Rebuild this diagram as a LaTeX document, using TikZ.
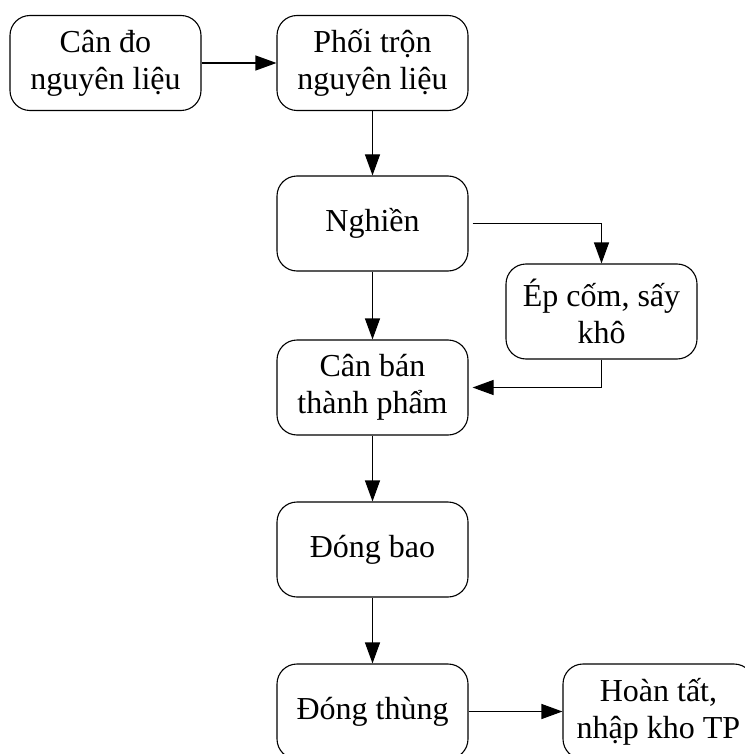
\documentclass[tikz,border=0pt]{standalone}
\usepackage{fontspec}
\setmainfont{Liberation Serif}
\usetikzlibrary{arrows.meta}
\begin{document}
\begin{tikzpicture}[x=1pt,y=-1pt,
  procbox/.style={draw, line width=1.1pt, rounded corners=20pt,
    minimum width=191pt, minimum height=95pt, inner sep=2pt,
    align=center, font=\fontsize{32}{37}\selectfont},
  flow/.style={line width=1.1pt, -{Triangle[length=21pt,width=15pt]}}]
\useasboundingbox (0,0) rectangle (744,754);
\node[procbox] (can)   at (105.5,63)  {Cân đo\\nguyên liệu};
\node[procbox] (phoi)  at (372.5,63)  {Phối trộn\\nguyên liệu};
\node[procbox] (nghien) at (372.5,223.5) {Nghiền};
\node[procbox] (ep)    at (601.5,311.5) {Ép cốm, sấy\\khô};
\node[procbox] (canban) at (372.5,387.5) {Cân bán\\thành phẩm};
\node[procbox] (dongbao) at (372.5,549.5) {Đóng bao};
\node[procbox] (dongthung) at (372.5,711.5) {Đóng thùng};
\node[procbox] (hoantat) at (658.5,711.5) {Hoàn tất,\\nhập kho TP};
\draw[flow] (can.east) -- (phoi.west);
\draw[flow] (phoi.south) -- (nghien.north);
\draw[flow] (nghien.south) -- (canban.north);
\draw[flow, shorten <=4pt] (nghien.east) -| (ep.north);
\draw[flow, shorten >=4pt] (ep.south) |- (canban.east);
\draw[flow] (canban.south) -- (dongbao.north);
\draw[flow] (dongbao.south) -- (dongthung.north);
\draw[flow] (dongthung.east) -- (hoantat.west);
\end{tikzpicture}
\end{document}
